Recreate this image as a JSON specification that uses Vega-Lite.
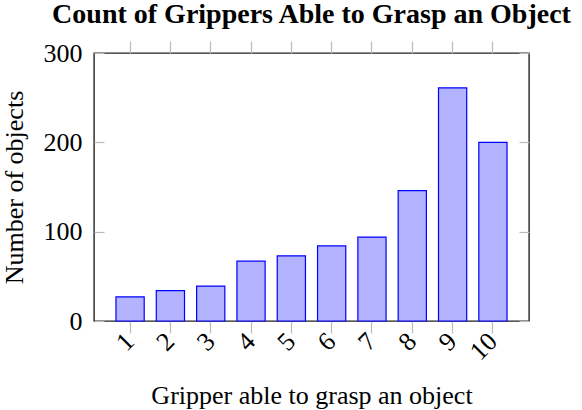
{
  "$schema": "https://vega.github.io/schema/vega-lite/v6.json",
  "autosize": "none",
  "width": 435,
  "height": 268,
  "padding": {"left": 94, "top": 53, "right": 53, "bottom": 89},
  "background": "white",
  "title": {
    "text": "Count of Grippers Able to Grasp an Object",
    "font": "Liberation Serif",
    "fontSize": 28,
    "fontWeight": "bold",
    "color": "black",
    "anchor": "middle",
    "offset": 11
  },
  "config": {
    "view": {"stroke": "#222", "strokeWidth": 1.4},
    "font": "Liberation Serif",
    "axis": {"labelFont": "Liberation Serif", "titleFont": "Liberation Serif"}
  },
  "data": {
    "values": [
      {"grippers": "1", "count": 27},
      {"grippers": "2", "count": 34},
      {"grippers": "3", "count": 39},
      {"grippers": "4", "count": 67},
      {"grippers": "5", "count": 73},
      {"grippers": "6", "count": 84},
      {"grippers": "7", "count": 94},
      {"grippers": "8", "count": 146},
      {"grippers": "9", "count": 261},
      {"grippers": "10", "count": 200}
    ]
  },
  "layer": [
    {
      "mark": {"type": "bar", "fill": "#b3b3ff", "stroke": "#0000ff", "strokeWidth": 1.2},
      "encoding": {
        "x": {
          "field": "grippers",
          "type": "ordinal",
          "sort": null,
          "scale": {"paddingInner": 0.3, "paddingOuter": 0.545},
          "axis": {
            "title": "Gripper able to grasp an object",
            "titleFontSize": 26,
            "titleFontWeight": "normal",
            "titleColor": "black",
            "titleBaseline": "alphabetic",
            "titleX": 217.5,
            "titleY": 82,
            "labelFontSize": 26,
            "labelColor": "black",
            "labelAngle": -45,
            "labelAlign": "right",
            "labelBaseline": "middle",
            "labelPadding": 4,
            "domain": false,
            "tickColor": "#bbbbbb",
            "tickSize": 12,
            "tickWidth": 1.2
          }
        },
        "y": {
          "field": "count",
          "type": "quantitative",
          "scale": {"domain": [0, 300], "nice": false},
          "axis": {
            "title": "Number of objects",
            "titleFontSize": 26,
            "titleFontWeight": "normal",
            "titleColor": "black",
            "titleBaseline": "middle",
            "titleX": -80,
            "titleY": 134,
            "labelFontSize": 26,
            "labelColor": "black",
            "labelPadding": 22,
            "values": [0, 100, 200, 300],
            "grid": false,
            "domain": false,
            "tickColor": "#bbbbbb",
            "tickSize": -10,
            "tickWidth": 1.2
          }
        }
      }
    },
    {
      "mark": {"type": "rule", "opacity": 0},
      "encoding": {
        "x": {
          "field": "grippers",
          "type": "ordinal",
          "sort": null,
          "axis": {
            "orient": "top",
            "title": null,
            "labels": false,
            "domain": false,
            "tickColor": "#bbbbbb",
            "tickSize": 12,
            "tickWidth": 1.2
          }
        },
        "y": {
          "field": "count",
          "type": "quantitative",
          "axis": {
            "orient": "right",
            "title": null,
            "labels": false,
            "values": [0, 100, 200, 300],
            "grid": false,
            "domain": false,
            "tickColor": "#bbbbbb",
            "tickSize": -10,
            "tickWidth": 1.2
          }
        }
      }
    }
  ],
  "resolve": {"axis": {"x": "independent", "y": "independent"}}
}
